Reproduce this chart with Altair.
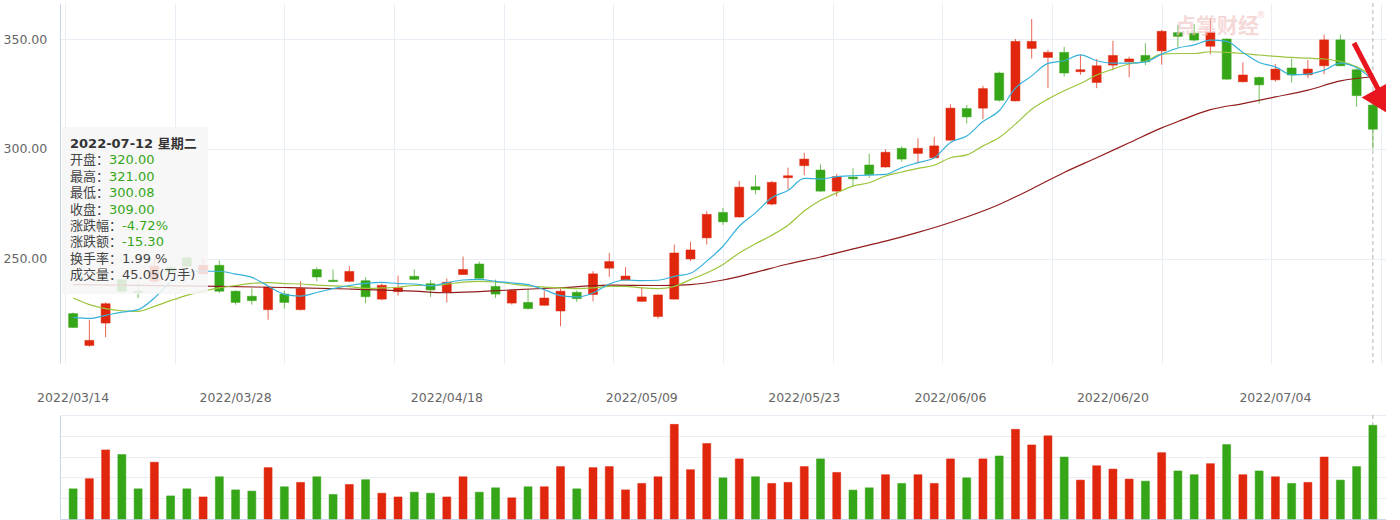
import altair as alt
import pandas as pd

# ---------------- data ----------------
dates = (
    ["2022/03/" + d for d in ["14", "15", "16", "17", "18", "21", "22", "23", "24", "25", "28", "29", "30", "31"]]
    + ["2022/04/" + d for d in ["01", "06", "07", "08", "11", "12", "13", "14", "15", "18", "19", "20", "21", "22", "25", "26", "27", "28", "29"]]
    + ["2022/05/" + d for d in ["05", "06", "09", "10", "11", "12", "13", "16", "17", "18", "19", "20", "23", "24", "25", "26", "27", "30", "31"]]
    + ["2022/06/" + d for d in ["01", "02", "06", "07", "08", "09", "10", "13", "14", "15", "16", "17", "20", "21", "22", "23", "24", "27", "28", "29", "30"]]
    + ["2022/07/" + d for d in ["01", "04", "05", "06", "07", "08", "11", "12"]]
)

opens = [225.0, 210.5, 220.7, 240.5, 235.2, 239.7, 246.0, 250.4, 243.2, 247.0,
         235.2, 232.9, 226.8, 233.9, 226.8, 245.1, 240.2, 239.7, 240.0, 231.6,
         235.0, 242.0, 238.6, 234.8, 242.8, 247.6, 237.4, 229.8, 230.1, 228.8,
         226.2, 234.7, 233.7, 245.7, 240.3, 230.6, 223.7, 231.6, 249.9, 259.5,
         271.1, 269.0, 282.8, 274.9, 286.9, 292.4, 290.4, 280.8, 287.2, 292.7,
         291.8, 300.3, 298.0, 296.0, 304.0, 318.4, 318.6, 334.6, 321.9, 345.8,
         341.7, 344.0, 335.2, 330.3, 338.2, 339.7, 342.6, 344.7, 353.0, 352.7,
         346.8, 350.1, 330.6, 332.6, 331.5, 336.9, 333.8, 337.9, 349.7, 336.1,
         320.00]
highs = [225.5, 222.2, 230.1, 241.0, 239.0, 250.4, 248.0, 251.0, 250.4, 249.2,
         235.6, 236.4, 237.5, 235.5, 239.7, 246.1, 245.1, 246.6, 241.6, 238.7,
         242.3, 245.2, 240.2, 241.0, 251.0, 248.7, 240.5, 235.8, 235.9, 235.5,
         236.4, 235.5, 244.3, 252.6, 246.1, 237.1, 233.7, 256.5, 257.7, 271.7,
         273.1, 285.4, 288.1, 285.4, 291.5, 298.3, 293.0, 288.7, 291.2, 297.9,
         299.9, 301.2, 304.9, 305.5, 320.4, 320.0, 328.8, 335.2, 350.1, 359.2,
         345.1, 346.6, 342.9, 341.0, 349.3, 342.0, 348.1, 354.2, 356.6, 357.0,
         359.2, 350.3, 339.4, 333.0, 338.7, 341.2, 340.5, 352.1, 352.1, 336.5,
         321.00]
lows = [218.5, 209.9, 214.3, 234.5, 232.1, 238.9, 243.0, 246.0, 242.8, 234.4,
        229.1, 229.1, 222.2, 227.3, 226.5, 239.7, 239.3, 239.3, 229.7, 231.0,
        233.2, 240.4, 232.6, 230.1, 242.6, 240.9, 232.1, 229.1, 226.8, 228.6,
        219.2, 230.3, 230.6, 241.7, 240.0, 230.4, 222.7, 231.4, 248.9, 256.5,
        265.4, 268.8, 279.3, 274.3, 281.6, 288.0, 280.5, 278.5, 282.6, 286.9,
        291.5, 294.2, 293.5, 295.7, 303.8, 311.6, 313.6, 321.6, 321.7, 341.2,
        327.7, 333.0, 333.8, 327.7, 335.9, 332.6, 338.2, 338.4, 346.3, 349.0,
        343.2, 331.6, 330.4, 320.7, 330.7, 330.3, 332.3, 334.1, 337.7, 319.2,
        300.08]
closes = [218.7, 212.8, 229.5, 235.2, 234.6, 246.6, 244.0, 246.6, 247.0, 235.2,
          230.1, 230.9, 237.1, 230.1, 236.4, 241.7, 239.6, 244.2, 232.7, 237.9,
          236.8, 240.6, 235.8, 239.3, 245.1, 241.1, 233.9, 235.5, 227.3, 232.1,
          235.2, 231.8, 243.1, 248.7, 242.1, 232.6, 233.5, 252.6, 254.0, 270.2,
          266.8, 282.6, 281.4, 284.8, 287.8, 295.4, 280.8, 287.4, 286.4, 288.3,
          298.5, 295.4, 300.3, 301.4, 318.6, 314.6, 327.5, 322.2, 349.0, 349.0,
          344.0, 334.6, 336.1, 337.9, 342.6, 341.0, 339.7, 353.6, 351.3, 349.6,
          353.0, 331.8, 333.7, 329.2, 336.4, 333.7, 336.4, 349.7, 337.9, 324.3,
          309.00]
volumes = [14.5, 19.4, 33.2, 31.0, 14.5, 27.3, 11.1, 14.5, 10.6, 20.3,
           14.0, 13.4, 24.7, 15.5, 17.6, 20.3, 11.8, 16.6, 18.9, 12.4,
           10.6, 12.9, 12.4, 10.6, 20.3, 12.9, 15.0, 10.2, 15.5, 15.5,
           25.2, 14.5, 24.7, 25.2, 14.0, 17.1, 20.3, 45.5, 23.7, 36.3,
           19.8, 28.9, 20.3, 17.1, 17.6, 25.2, 28.9, 22.4, 13.9, 15.0,
           21.3, 17.1, 21.3, 17.1, 28.9, 19.8, 28.9, 30.3, 43.1, 35.6,
           40.0, 29.8, 18.7, 25.6, 24.0, 19.2, 18.2, 31.9, 23.1, 21.3,
           26.6, 35.8, 21.3, 23.1, 20.3, 17.1, 17.6, 29.8, 18.7, 25.2,
           45.05]

ma5 = [223.3, 222.8, 224.2, 225.7, 226.8, 232.1, 239.4, 243.8, 244.3, 244.3,
       243.0, 241.5, 237.6, 233.8, 233.0, 234.6, 236.4, 237.8, 238.8, 239.2,
       238.7, 238.5, 237.6, 239.1, 240.3, 240.6, 239.7, 239.0, 238.2, 235.9,
       233.2, 232.6, 234.4, 238.5, 240.3, 240.0, 240.2, 242.0, 243.4, 248.9,
       255.7, 264.8, 270.9, 277.8, 281.1, 286.6, 286.3, 287.4, 287.8, 288.1,
       288.4, 291.5, 293.8, 296.0, 303.0, 305.9, 312.5, 317.4, 327.7, 333.3,
       339.0, 340.2, 342.9, 340.2, 339.1, 339.1, 339.7, 343.2, 346.0, 347.4,
       349.6, 349.0, 344.0, 339.4, 337.4, 333.8, 334.1, 335.9, 339.1, 337.0,
       331.5]
ma10 = [232.1, 229.1, 227.3, 226.3, 226.0, 228.3, 230.9, 233.3, 235.2, 236.7,
        237.8, 238.8, 239.1, 238.7, 238.5, 238.0, 237.6, 237.3, 236.5, 236.7,
        237.0, 237.8, 237.8, 238.4, 239.3, 239.7, 239.4, 238.5, 237.6, 237.1,
        236.7, 236.4, 236.7, 237.4, 237.4, 236.7, 236.4, 237.4, 240.5, 243.5,
        247.4, 252.6, 256.8, 260.7, 265.3, 271.7, 276.6, 280.0, 283.1, 284.6,
        287.7, 289.5, 291.2, 292.6, 296.0, 297.3, 301.4, 305.2, 311.3, 318.1,
        322.7, 326.5, 329.8, 333.7, 336.4, 338.7, 339.9, 343.2, 343.5, 343.5,
        344.3, 344.0, 343.5, 342.8, 342.2, 341.7, 341.4, 341.0, 339.9, 337.4,
        333.3]
ma30_idx = [0, 4, 9, 13, 17, 21, 23, 25, 27, 30, 33, 36, 38, 40, 42, 44, 46, 48,
            50, 52, 54, 57, 59, 61, 63, 65, 67, 68, 70, 72, 74, 76, 78, 80]
ma30 = [238.2, 237.9, 237.4, 236.9, 236.2, 235.2, 234.5, 235.0, 235.8, 236.8,
        238.0, 237.8, 238.2, 240.3, 243.8, 247.6, 250.8, 254.5, 258.0, 262.0,
        266.5, 274.7, 281.8, 289.3, 296.0, 302.8, 309.6, 312.5, 317.9, 320.7,
        323.7, 326.8, 331.0, 332.9]

axis_dates = ["2022/03/14", "2022/03/28", "2022/04/18", "2022/05/09",
              "2022/05/23", "2022/06/06", "2022/06/20", "2022/07/04"]
price_ticks = [250, 300, 350]
vol_ticks = [0, 10, 20, 30, 40, 50]

tip_title = "2022-07-12 星期二"
tip_labels = ["开盘：", "最高：", "最低：", "收盘：", "涨跌幅：", "涨跌额：", "换手率：", "成交量："]
tip_values = ["320.00", "321.00", "300.08", "309.00", "-4.72%", "-15.30", "1.99 %", "45.05(万手)"]

# ---------------- styles ----------------
RED = "#e0260c"
GREEN = "#35a617"
BLUE = "#36b2da"
OLIVE = "#9cc43c"
DARKRED = "#921c1c"
GRID = "#e9eef5"
AXISC = "#cad7ea"
LABEL = "#666666"
NUMFONT = "DejaVu Sans"
MIXFONT = "'DejaVu Sans', 'Noto Sans CJK SC'"
CJK = "Noto Sans CJK SC"

W, H_PRICE, H_VOL = 1326, 360, 104
AXIS_W = 57
n = len(dates)

df = pd.DataFrame({"idx": list(range(n)), "date": dates, "open": opens, "high": highs,
                   "low": lows, "close": closes, "vol": volumes})
df["dir"] = ["up" if c >= o else "down" for o, c in zip(opens, closes)]

xscale = alt.Scale(domain=[-0.5, n - 0.5], nice=False, zero=False)
grid_vals = [-0.5 + n / 12 * k for k in range(13)]
cscale = alt.Scale(domain=["up", "down"], range=[RED, GREEN])

yscale = alt.Scale(domain=[202.5, 366.5], nice=False, zero=False)
yaxis = alt.Axis(values=price_ticks, format=".2f", grid=True, gridColor=GRID, ticks=False,
                 domainColor=AXISC, labelAlign="left", labelPadding=AXIS_W,
                 labelFontSize=12.5, labelColor=LABEL, labelFont=NUMFONT,
                 minExtent=AXIS_W, maxExtent=AXIS_W, title=None)
xaxis = alt.Axis(values=grid_vals, grid=True, gridColor=GRID, labels=False, ticks=False,
                 domain=False, title=None)

base = alt.Chart(df).encode(
    x=alt.X("idx:Q", scale=xscale, axis=xaxis),
    color=alt.Color("dir:N", scale=cscale, legend=None),
)
wick = base.mark_rule(strokeWidth=1, opacity=0.7).encode(
    y=alt.Y("low:Q", scale=yscale, axis=yaxis), y2="high:Q")
body = base.mark_bar(size=9, strokeWidth=1, strokeOpacity=0.5).encode(
    y="open:Q", y2="close:Q",
    stroke=alt.Stroke("dir:N", scale=cscale, legend=None))

cross_df = pd.DataFrame({"idx": [n - 1]})
cross = alt.Chart(cross_df).mark_rule(color="#b5b5b5", strokeDash=[4, 3], strokeWidth=1).encode(
    x=alt.X("idx:Q", scale=xscale))


def ma_line(xs, vals, color):
    return alt.Chart(pd.DataFrame({"idx": xs, "v": vals})).mark_line(
        color=color, strokeWidth=1.2, interpolate="monotone").encode(
        x=alt.X("idx:Q", scale=xscale), y=alt.Y("v:Q", scale=yscale))


l30 = ma_line(ma30_idx, ma30, DARKRED)
l10 = ma_line(list(range(n)), ma10, OLIVE)
l5 = ma_line(list(range(n)), ma5, BLUE)

one = pd.DataFrame({"a": [0]})
watermark = alt.Chart(one).mark_text(
    text="点掌财经", font=CJK, fontSize=21, fontWeight="bold", color="#f0c0c0",
    opacity=0.6, align="center", baseline="middle").encode(x=alt.value(1157), y=alt.value(24))
watermark_r = alt.Chart(one).mark_text(
    text="®", font=NUMFONT, fontSize=9, color="#f0c0c0", opacity=0.7,
    align="center", baseline="middle").encode(x=alt.value(1201), y=alt.value(12))

tip_box = alt.Chart(one).mark_rect(fill="#f6f6f6", opacity=0.86).encode(
    x=alt.value(2), x2=alt.value(148), y=alt.value(124), y2=alt.value(291))

tip_layers = [alt.Chart(pd.DataFrame({"t": [tip_title]})).mark_text(
    font=MIXFONT, fontSize=13, fontWeight="bold", color="#333333", align="left",
    baseline="middle").encode(text="t:N", x=alt.value(10), y=alt.value(140.7))]
for i, (lab, val) in enumerate(zip(tip_labels, tip_values)):
    py = 157.3 + i * 16.4
    tip_layers.append(alt.Chart(pd.DataFrame({"t": [lab]})).mark_text(
        font=CJK, fontSize=13, color="#444444", align="left", baseline="middle").encode(
        text="t:N", x=alt.value(10), y=alt.value(py)))
    tip_layers.append(alt.Chart(pd.DataFrame({"t": [val]})).mark_text(
        font=MIXFONT, fontSize=13, color=GREEN if i < 6 else "#444444", align="left",
        baseline="middle").encode(
        text="t:N", x=alt.value(10 + 13 * len(lab)), y=alt.value(py)))

arrow_shaft = alt.Chart(one).mark_rule(color="#e8141e", strokeWidth=5).encode(
    x=alt.value(1294), x2=alt.value(1318), y=alt.value(40), y2=alt.value(86))
arrow_head = alt.Chart(one).mark_point(
    shape="triangle-up", angle=151, size=1300, filled=True, color="#e8141e", opacity=1,
    clip=True).encode(x=alt.value(1325), y=alt.value(99.5))

price = alt.layer(
    cross, wick, body, l30, l10, l5, watermark, watermark_r, tip_box, *tip_layers,
    arrow_shaft, arrow_head
).properties(width=W, height=H_PRICE)

# ---------------- volume panel ----------------
vbase = alt.Chart(df).encode(
    x=alt.X("idx:Q", scale=xscale,
            axis=alt.Axis(labels=False, ticks=False, grid=False, domainColor=AXISC, title=None)),
)
vbars = vbase.mark_bar(size=8, strokeWidth=1, strokeOpacity=0.5).encode(
    y=alt.Y("vol:Q", scale=alt.Scale(domain=[0, 50], nice=False),
            axis=alt.Axis(values=vol_ticks, labels=False, ticks=False, grid=True, gridColor=GRID,
                          domainColor=AXISC, title=None, minExtent=AXIS_W, maxExtent=AXIS_W)),
    color=alt.Color("dir:N", scale=cscale, legend=None),
    stroke=alt.Stroke("dir:N", scale=cscale, legend=None),
)
vcross = alt.Chart(cross_df).mark_rule(color="#b5b5b5", strokeDash=[4, 3], strokeWidth=1).encode(
    x=alt.X("idx:Q", scale=xscale))
lab_df = pd.DataFrame({"d": axis_dates, "idx": [dates.index(d) for d in axis_dates]})
dlabels = alt.Chart(lab_df).mark_text(
    font=NUMFONT, fontSize=12.5, color=LABEL, align="center", baseline="middle").encode(
    x=alt.X("idx:Q", scale=xscale), y=alt.value(-17), text="d:N")

volume = alt.layer(vcross, vbars, dlabels).properties(width=W, height=H_VOL)

chart = alt.vconcat(price, volume, spacing=52, bounds="flush").configure_view(
    stroke=None).properties(padding={"left": 3, "top": 2, "right": 0, "bottom": 2})

chart.save("out.html", embed_options={"renderer": "svg", "actions": False})
